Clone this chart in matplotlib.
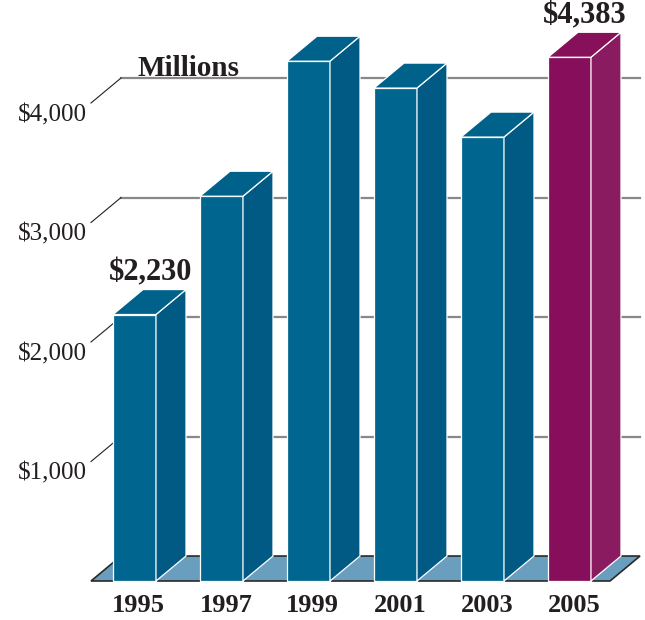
import matplotlib.pyplot as plt
from matplotlib.patches import Polygon

# data (millions of dollars)
years = ["1995", "1997", "1999", "2001", "2003", "2005"]
values = [2230, 3220, 4350, 4125, 3715, 4383]
ticks = [1000, 2000, 3000, 4000]
tick_labels = ["$1,000", "$2,000", "$3,000", "$4,000"]
labeled = {0: "$2,230", 5: "$4,383"}

blue = ("#00668f", "#005a84", "#00628b")     # front, side, top
purple = ("#870e5a", "#8b1b60", "#86105a")
floor_col = "#6a9ebe"
ink = "#231f20"

DX, DY = 0.345, 209      # depth offset of the oblique projection
HW = 0.247               # half width of a bar
FL, FR = -0.5, 5.466     # floor extent (front edge)

plt.rcParams['font.family'] = ['Liberation Serif', 'DejaVu Serif']

fig = plt.figure(figsize=(6.45, 6.2), dpi=100)
ax = fig.add_axes([0, 0, 1, 1])
ax.set_xlim(-1.546, 5.868)
ax.set_ylim(-326.4, 4862)
ax.axis('off')

# back wall grid lines with the little diagonal leaders
for v, lab in zip(ticks, tick_labels):
    ax.plot([FL + DX, FR + DX], [v + DY, v + DY], color="#888888", lw=1.6, zorder=1)
    ax.plot([FL, FL + DX], [v, v + DY], color=ink, lw=0.8, zorder=1)
    ax.text(FL - 0.046, v - 100, lab, ha='right', va='center', fontsize=18, color=ink)

ax.text(0.04, 4226, "Millions", ha='left', va='baseline', fontsize=21,
        fontweight='bold', color=ink)

# floor
ax.add_patch(Polygon([(FL, 0), (FR, 0), (FR + DX, DY), (FL + DX, DY)], closed=True,
                     facecolor=floor_col, edgecolor="#2a2a2a", lw=1.2, zorder=2))

# bars
for i, (yr, v) in enumerate(zip(years, values)):
    front, side, top = purple if i == len(values) - 1 else blue
    x0, x1 = i - HW, i + HW
    faces = [
        ([(x0, 0), (x1, 0), (x1, v), (x0, v)], front),
        ([(x1, 0), (x1 + DX, DY), (x1 + DX, v + DY), (x1, v)], side),
        ([(x0, v), (x1, v), (x1 + DX, v + DY), (x0 + DX, v + DY)], top),
    ]
    for pts, c in faces:
        ax.add_patch(Polygon(pts, closed=True, facecolor=c, edgecolor="white",
                             lw=0.9, zorder=3))
    ax.text(i + 0.05, -209, yr, ha='center', va='center', fontsize=19,
            fontweight='bold', color=ink)
    if i in labeled:
        ax.text(i + 0.18, v + 350, labeled[i], ha='center', va='center',
                fontsize=22, fontweight='bold', color=ink)

fig.savefig("out.png", dpi=100)
